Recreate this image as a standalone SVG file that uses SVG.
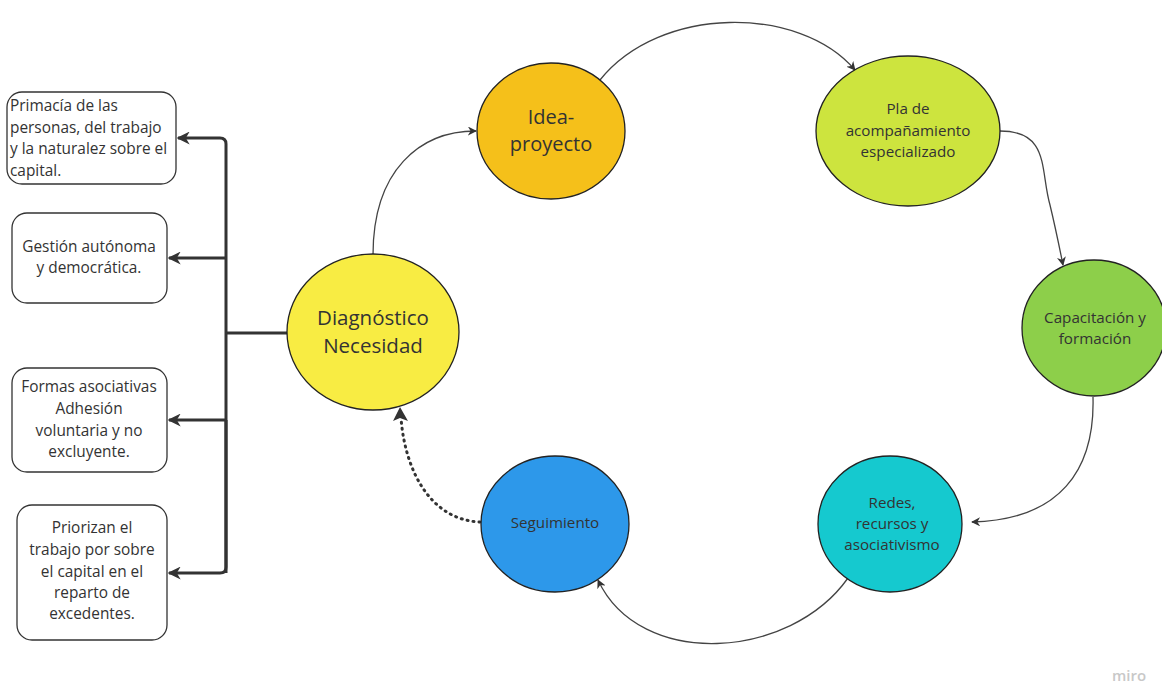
<svg xmlns="http://www.w3.org/2000/svg" width="1162" height="685" viewBox="0 0 1162 685">
<defs>
<style>
.t{font-family:"Open Sans","Noto Sans","Liberation Sans",sans-serif;fill:#333;}
.box{fill:#fff;stroke:#333;stroke-width:1.3;}
.nd{stroke:#222;stroke-width:1.3;}
.c{fill:none;stroke:#444;stroke-width:1.3;}
.br{fill:none;stroke:#333;stroke-width:3;}
</style>
<marker id="a" viewBox="0 0 10 10" refX="9" refY="5" markerWidth="9" markerHeight="9" markerUnits="userSpaceOnUse" orient="auto">
<path d="M0,0 L10,5 L0,10 L3,5 Z" fill="#333"/>
</marker>
<marker id="ab" viewBox="0 0 10 10" refX="9" refY="5" markerWidth="13" markerHeight="13" markerUnits="userSpaceOnUse" orient="auto">
<path d="M0,0 L10,5 L0,10 L3,5 Z" fill="#333"/>
</marker>
</defs>
<rect width="1162" height="685" fill="#fff"/>
<g id="connectors">
<path class="br" d="M287,333 H226"/>
<path class="br" d="M226,573 V144 Q226,138 220,138 H178" marker-end="url(#ab)"/>
<path class="br" d="M226,258 H169" marker-end="url(#ab)"/>
<path class="br" d="M226,420 H169" marker-end="url(#ab)"/>
<path class="br" d="M226,420 V567 Q226,573 220,573 H169" marker-end="url(#ab)"/>
<path class="c" d="M373,255 C373,170 420,131 476,131" marker-end="url(#a)"/>
<path class="c" d="M600,80 C660,5 800,5 855,70" marker-end="url(#a)"/>
<path class="c" d="M1000,131 C1050,131 1040,170 1050,205 C1056,230 1060,250 1063,265" marker-end="url(#a)"/>
<path class="c" d="M1093,397 C1095,470 1060,520 972,522" marker-end="url(#a)"/>
<path class="c" d="M848,578 C790,660 640,670 598,580" marker-end="url(#a)"/>
<path fill="none" stroke="#333" stroke-width="3" stroke-dasharray="1,5" stroke-linecap="round" d="M480,522 C430,520 405,470 401,418"/>
<path d="M400,407 L408,421 L400,418 L393,421 Z" fill="#333"/>
</g>
<g id="box1"><rect class="box" x="7" y="92" width="169" height="92" rx="15"/>
<text class="t" font-size="15.4" x="10"><tspan x="10" y="111">Primacía de las</tspan><tspan x="10" y="133">personas, del trabajo</tspan><tspan x="10" y="154">y la naturalez sobre el</tspan><tspan x="10" y="176">capital.</tspan></text></g>
<g id="box2"><rect class="box" x="12" y="213" width="155" height="90" rx="15"/>
<text class="t" font-size="15.4" text-anchor="middle"><tspan x="89" y="252">Gestión autónoma</tspan><tspan x="89" y="273">y democrática.</tspan></text></g>
<g id="box3"><rect class="box" x="12" y="368" width="155" height="104" rx="15"/>
<text class="t" font-size="15.4" text-anchor="middle"><tspan x="89" y="392">Formas asociativas</tspan><tspan x="89" y="414">Adhesión</tspan><tspan x="89" y="436">voluntaria y no</tspan><tspan x="89" y="457">excluyente.</tspan></text></g>
<g id="box4"><rect class="box" x="17" y="505" width="150" height="135" rx="15"/>
<text class="t" font-size="15.4" text-anchor="middle"><tspan x="92" y="533">Priorizan el</tspan><tspan x="92" y="555">trabajo por sobre</tspan><tspan x="92" y="577">el capital en el</tspan><tspan x="92" y="598">reparto de</tspan><tspan x="92" y="619">excedentes.</tspan></text></g>
<g id="diagnostico"><ellipse class="nd" cx="373" cy="332" rx="86" ry="78" fill="#f8ec43"/>
<text class="t" font-size="20.5" text-anchor="middle"><tspan x="373" y="325">Diagnóstico</tspan><tspan x="373" y="353">Necesidad</tspan></text></g>
<g id="idea"><ellipse class="nd" cx="551" cy="131" rx="74" ry="68" fill="#f5c01a"/>
<text class="t" font-size="20" text-anchor="middle"><tspan x="551" y="124">Idea-</tspan><tspan x="551" y="151">proyecto</tspan></text></g>
<g id="pla"><ellipse class="nd" cx="908" cy="131" rx="92" ry="75" fill="#cde43e"/>
<text class="t" font-size="15.2" text-anchor="middle"><tspan x="908" y="114">Pla de</tspan><tspan x="908" y="136">acompañamiento</tspan><tspan x="908" y="157">especializado</tspan></text></g>
<g id="capacitacion"><ellipse class="nd" cx="1094" cy="328" rx="72" ry="68" fill="#8dcf4a"/>
<text class="t" font-size="15.2" text-anchor="middle"><tspan x="1095" y="323">Capacitación y</tspan><tspan x="1095" y="344">formación</tspan></text></g>
<g id="redes"><ellipse class="nd" cx="890" cy="524" rx="72" ry="68" fill="#15c9cf"/>
<text class="t" font-size="15.2" text-anchor="middle"><tspan x="892" y="508">Redes,</tspan><tspan x="892" y="529">recursos y</tspan><tspan x="892" y="550">asociativismo</tspan></text></g>
<g id="seguimiento"><ellipse class="nd" cx="555" cy="524" rx="74" ry="68" fill="#2d98ea"/>
<text class="t" font-size="15.2" text-anchor="middle" x="555" y="528">Seguimiento</text></g>
<text font-family="Open Sans, sans-serif" font-size="15" font-weight="600" fill="#c8c8c8" x="1112" y="681">miro</text>
</svg>
